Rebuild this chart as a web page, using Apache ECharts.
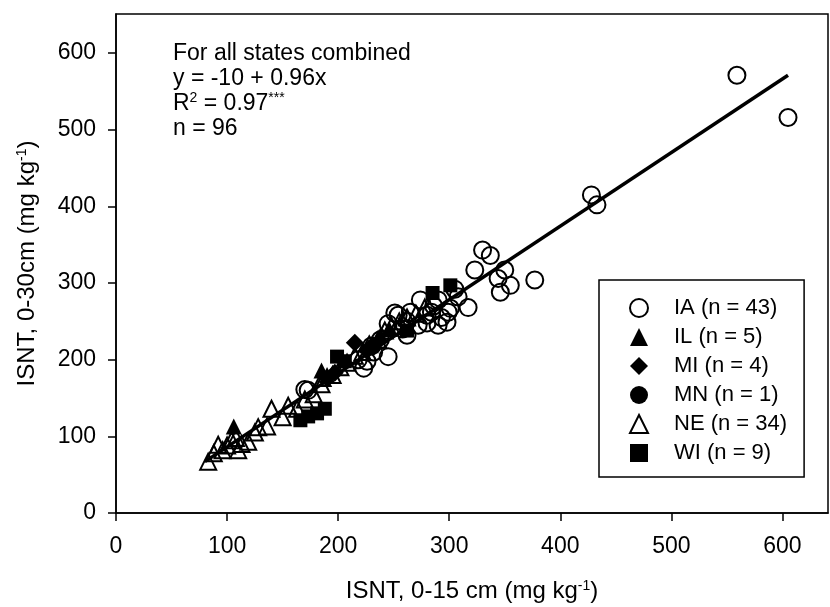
<!DOCTYPE html>
<html><head><meta charset="utf-8">
<script src="https://cdn.jsdelivr.net/npm/echarts@6/dist/echarts.min.js"></script>
<style>html,body{margin:0;padding:0;background:#fff}#c{width:830px;height:607px}</style>
</head><body><div id="c"></div>
<script>
const xTicks = [0, 100, 200, 300, 400, 500, 600];
const yTicks = [0, 100, 200, 300, 400, 500, 600];
const seriesNames = ['IA (n = 43)', 'IL (n = 5)', 'MI (n = 4)', 'MN (n = 1)', 'NE (n = 34)', 'WI (n = 9)'];
const IA = [[605,516],[559,571],[428,415],[433,402],
  [330,343],[337,336],[323,317],[350,317],[344,306],[355,297],[346,288],[377,304],[317,268],[301,267],
  [265,262],[254,258],[274,278],[298,249],[299,262],[272,245],[245,247],[251,261],[245,204],[223,189],[170,161],[173,160],
  [226,198],[232,210],[238,226],[258,240],[262,250],[280,258],[286,270],[290,278],[284,262],[293,255],[308,282],[305,292],[230,218],[218,200],[262,232],[290,245],[280,248]];
const IL = [[106,113],[185,186],[190,180],[238,232],[246,240]];
const MI = [[215,222],[190,176],[197,183],[226,212]];
const MN = [[232,218]];
const NE = [[83,67],[92,89],[96,82],[110,82],[119,93],[136,113],[140,136],[163,136],
  [88,78],[100,88],[104,95],[108,98],[113,90],[125,105],[128,112],[150,125],[155,140],[178,155],[185,168],[195,180],[202,190],[208,196],[215,205],[222,210],[228,220],[236,226],[242,238],[248,244],[255,250],[262,255],[270,260],[278,268],[186,176],[170,148]];
const WI = [[166,121],[173,126],[181,130],[188,136],[199,204],[206,198],[285,287],[301,297],[262,238]];
const fitLine = [[80,67],[605,571]];

const FONT = 'Liberation Sans, Arial, Helvetica, sans-serif';
const chart = echarts.init(document.getElementById('c'), null, {renderer: 'canvas'});
const openStyle = {color: 'rgba(255,255,255,0)', borderColor: '#000', borderWidth: 2, opacity: 1};
const fillStyle = {color: '#000', opacity: 1};
chart.setOption({
  animation: false,
  backgroundColor: '#fff',
  textStyle: {fontFamily: FONT, color: '#000'},
  grid: {left: 116, right: 2, top: 14, bottom: 94, show: true, borderColor: '#000', borderWidth: 1.5, containLabel: false, outerBoundsMode: 'none'},
  xAxis: {
    type: 'value', min: 0, max: 641, interval: 100,
    axisLine: {show: true, lineStyle: {color: '#000', width: 1.5}},
    axisTick: {show: true, length: 8, customValues: xTicks, lineStyle: {color: '#000', width: 1.5}},
    axisLabel: {customValues: xTicks, fontSize: 23, color: '#000', fontFamily: FONT, margin: 22},
    splitLine: {show: false},
    name: '{a|ISNT, 0-15 cm (mg kg}{s|-1}{a|)}', nameLocation: 'middle', nameGap: 66,
    nameTextStyle: {rich: {a: {fontSize: 24, fontFamily: FONT, color: '#000'}, s: {fontSize: 14, fontFamily: FONT, color: '#000', verticalAlign: 'top'}}}
  },
  yAxis: {
    type: 'value', min: 0, max: 651, interval: 100,
    axisLine: {show: true, lineStyle: {color: '#000', width: 1.5}},
    axisTick: {show: true, length: 8, customValues: yTicks, lineStyle: {color: '#000', width: 1.5}},
    axisLabel: {customValues: yTicks, fontSize: 23, color: '#000', fontFamily: FONT, margin: 20},
    splitLine: {show: false},
    name: '{a|ISNT, 0-30cm (mg kg}{s|-1}{a|)}', nameLocation: 'middle', nameGap: 77,
    nameTextStyle: {rich: {a: {fontSize: 24, fontFamily: FONT, color: '#000'}, s: {fontSize: 14, fontFamily: FONT, color: '#000', verticalAlign: 'top'}}}
  },
  legend: {
    data: seriesNames, orient: 'vertical', left: 599, top: 280,
    padding: [17, 17, 13, 30], itemWidth: 18, itemHeight: 18, itemGap: 7,
    borderColor: '#000', borderWidth: 1.5, backgroundColor: '#fff',
    textStyle: {fontSize: 22, fontFamily: FONT, color: '#000', padding: [0, 0, 0, 21]},
    selectedMode: false
  },
  graphic: [{
    type: 'text', left: 173, top: 42,
    style: {
      text: '{t|For all states combined}\n{t|y = -10 + 0.96x}\n{t|R}{s|2}{t| = 0.97}{s|***}\n{t|n = 96}',
      rich: {
        t: {fontSize: 23, fontFamily: FONT, fill: '#000', lineHeight: 25},
        s: {fontSize: 14, fontFamily: FONT, fill: '#000', lineHeight: 25, verticalAlign: 'top'}
      }
    }
  }],
  series: [
    {name: seriesNames[0], type: 'scatter', symbol: 'circle', symbolSize: 17, itemStyle: openStyle, data: IA, z: 2},
    {name: seriesNames[4], type: 'scatter', symbol: 'triangle', symbolSize: 16, itemStyle: openStyle, data: NE, z: 2},
    {name: seriesNames[1], type: 'scatter', symbol: 'triangle', symbolSize: 16, itemStyle: fillStyle, data: IL, z: 3},
    {name: seriesNames[2], type: 'scatter', symbol: 'diamond', symbolSize: 18, itemStyle: fillStyle, data: MI, z: 3},
    {name: seriesNames[3], type: 'scatter', symbol: 'circle', symbolSize: 16, itemStyle: fillStyle, data: MN, z: 3},
    {name: seriesNames[5], type: 'scatter', symbol: 'rect', symbolSize: 14, itemStyle: fillStyle, data: WI, z: 3},
    {name: 'fit', type: 'line', data: fitLine, showSymbol: false, symbol: 'none', silent: true, z: 4,
     lineStyle: {color: '#000', width: 3.5}}
  ]
});
</script>
</body></html>
